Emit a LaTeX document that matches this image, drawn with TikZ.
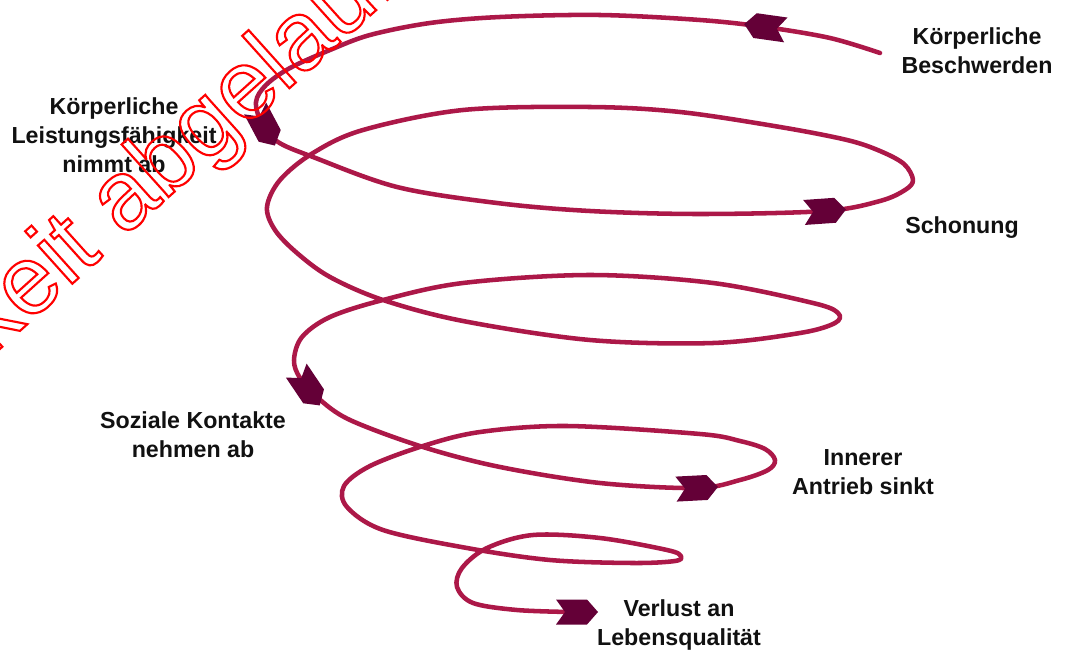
\documentclass[tikz,border=0pt]{standalone}
\usepackage{fontspec}
\setmainfont{Liberation Sans}
\definecolor{spiralc}{RGB}{172,24,72}
\definecolor{arrowc}{RGB}{100,0,55}
\definecolor{labelc}{RGB}{17,17,17}
\definecolor{wmred}{RGB}{255,0,0}
\newcommand\outlinetext[1]{\special{pdf:literal direct 1 Tr 1.6 w}#1\special{pdf:literal direct 0 Tr}}
\tikzset{
  spiral/.style={draw=spiralc, line width=3.4pt, line cap=round, line join=round},
  lbl/.style={text=labelc, align=center, inner sep=0pt, font=\bfseries\fontsize{17.4}{21.6}\selectfont},
  wm/.style={text=wmred, inner sep=0pt, font=\fontsize{73}{78}\selectfont},
  headfill/.style={fill=arrowc}
}
\newcommand\spiralhead[3]{%
  \fill[headfill, shift={(#1,#2)}, rotate=#3]
    (-21,-12.5) -- (10,-12.5) -- (21,0) -- (10,12.5) -- (-21,12.5) -- (-12,0) -- cycle;}
\begin{document}
\begin{tikzpicture}[x=0.75pt,y=-0.75pt]
\useasboundingbox (0,0) rectangle (1067,653);
\fill[white] (0,0) rectangle (1067,653);

\draw[spiral] plot[smooth, tension=0.55] coordinates {
 (880,53) (830,38) (765,27) (700,20) (600,15) (500,17) (430,23) (370,35)
 (330,50) (290,68) (266,85) (256,102) (262,124) (278,142) (313,157)
 (397,187) (497,203) (590,211) (700,214) (825,211) (880,201) (905,190)
 (913,180) (904,164) (880,151) (847,140) (780,127) (680,112) (590,107)
 (463,110) (363,130) (313,153) (280,180) (267,207) (275,230) (297,253)
 (330,277) (383,300) (463,321) (590,340) (713,343) (800,333) (835,323)
 (838,313) (813,303) (713,283) (590,275) (463,283) (383,300) (330,317)
 (302,337) (294,360) (300,378) (318,398) (350,420) (423,447)
 (500,467) (600,483) (697,488) (740,480) (768,470) (775,460) (765,449)
 (740,441) (700,434) (567,426) (480,432) (423,446) (370,466) (344,486)
 (347,507) (383,530) (467,548) (550,560) (633,563) (675,561) (681,556)
 (667,550) (600,538) (533,535) (487,548) (462,568) (457,587) (473,603)
 (517,610) (570,612)
};

\spiralhead{765}{27}{172}
\spiralhead{265}{127}{-62}
\spiralhead{825}{211}{4}
\spiralhead{308}{388}{-56}
\spiralhead{697}{488}{3}
\spiralhead{577}{612}{0}

\node[lbl] (beschwerden) at (977,51) {Körperliche\\Beschwerden};
\node[lbl] (leistung) at (114,135) {Körperliche\\Leistungsfähigkeit\\nimmt ab};
\node[lbl] (schonung) at (962,228) {Schonung};
\node[lbl] (kontakte) at (193,435) {Soziale Kontakte\\nehmen ab};
\node[lbl] (antrieb) at (863,472) {Innerer\\Antrieb sinkt};
\node[lbl] (verlust) at (679,625) {Verlust an\\Lebensqualität};

\begin{scope}
\clip (0,0) rectangle (1067,653);
\node[wm, rotate=42, anchor=base] (stamp) at (142,221) {\outlinetext{Gültigkeit abgelaufen}};
\end{scope}
\end{tikzpicture}
\end{document}
